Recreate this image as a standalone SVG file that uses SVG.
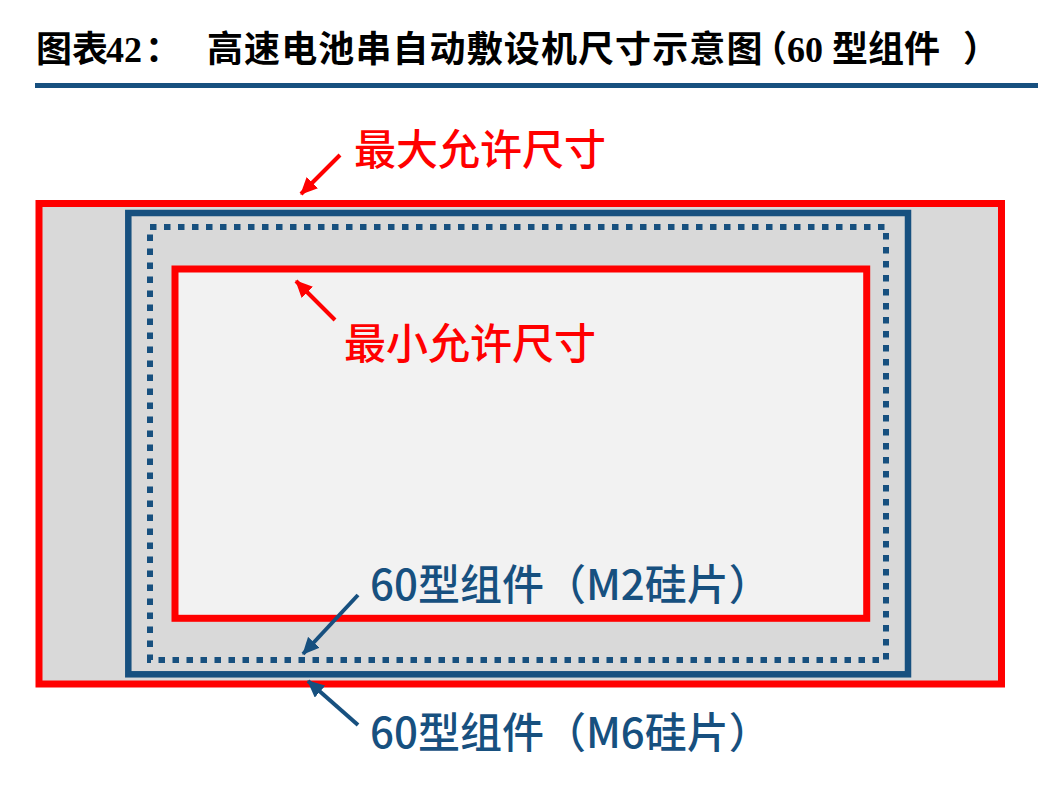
<svg xmlns="http://www.w3.org/2000/svg" width="1038" height="788" viewBox="0 0 1038 788">
<style>
.ttl{font-family:"Noto Sans CJK SC","Liberation Sans",sans-serif;font-weight:bold;font-size:36px;fill:#000}
.ttn{font-family:"Liberation Serif","Noto Sans CJK SC",serif;font-weight:bold;font-size:36px;fill:#000}
.half{font-feature-settings:"halt"}
.lbl{font-family:"Noto Sans CJK SC","Liberation Sans",sans-serif;font-weight:500;font-size:42px}
.red{fill:#ff0000}
.blue{fill:#17507f}
.outer{stroke:#ff0000;stroke-width:7;fill:#d9d9d9}
.inner{stroke:#ff0000;stroke-width:7;fill:#f2f2f2}
.bluebox{stroke:#17507f;stroke-width:6.5;fill:none}
.dotbox{stroke:#17507f;stroke-width:6;fill:none;stroke-dasharray:6.5 7.5}
.arr-r{stroke:#ff0000;stroke-width:4;fill:none;marker-end:url(#ahR)}
.arr-b{stroke:#17507f;stroke-width:4;fill:none;marker-end:url(#ahB)}
</style>
<defs>
<marker id="ahR" markerUnits="userSpaceOnUse" markerWidth="18" markerHeight="16" refX="16" refY="8" orient="auto">
<path d="M0,0 L17,8 L0,16 Z" fill="#ff0000"/>
</marker>
<marker id="ahB" markerUnits="userSpaceOnUse" markerWidth="18" markerHeight="16" refX="16" refY="8" orient="auto">
<path d="M0,0 L17,8 L0,16 Z" fill="#17507f"/>
</marker>
</defs>
<rect width="1038" height="788" fill="#ffffff"/>
<g id="title">
<text class="ttl" y="62"><tspan x="36">图表</tspan><tspan class="ttn" x="106">42</tspan><tspan x="145">：</tspan><tspan x="207" style="letter-spacing:1.1px">高速电池串自动敷设机尺寸示意图</tspan><tspan class="half" x="769">（</tspan><tspan class="ttn" x="787">60</tspan><tspan x="832">型组件</tspan><tspan class="half" x="963">）</tspan></text>
<rect x="35" y="83" width="1003" height="5" fill="#17507f"/>
</g>
<g id="max-size">
<rect x="39" y="203.5" width="962.5" height="480.5" class="outer"/>
</g>
<g id="m6-module">
<rect x="128.3" y="213" width="779.7" height="461.3" class="bluebox"/>
</g>
<g id="m2-module">
<rect x="150" y="227" width="736" height="433" class="dotbox"/>
</g>
<g id="min-size">
<rect x="175" y="269" width="691.7" height="349.3" class="inner"/>
</g>
<g id="connectors">
<line class="arr-r" x1="340" y1="155" x2="301" y2="194"/>
<line class="arr-r" x1="335" y1="320" x2="296" y2="281"/>
<line class="arr-b" x1="358" y1="595" x2="303" y2="654"/>
<line class="arr-b" x1="358" y1="725" x2="308" y2="681"/>
</g>
<g id="labels">
<text class="lbl red" x="354" y="165" font-size="42.5">最大允许尺寸</text>
<text class="lbl red" x="344" y="359" font-size="42.5">最小允许尺寸</text>
<text class="lbl blue" x="370" y="600" font-size="40">60型组件（M2硅片）</text>
<text class="lbl blue" x="370" y="748" font-size="40">60型组件（M6硅片）</text>
</g>
</svg>
